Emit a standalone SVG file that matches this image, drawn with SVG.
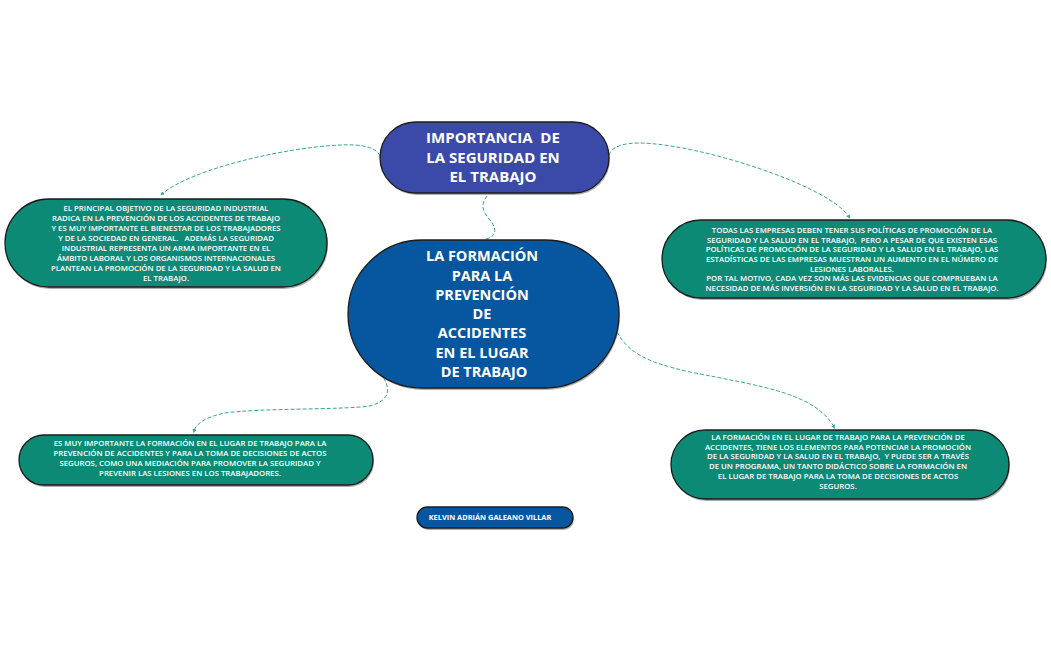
<svg xmlns="http://www.w3.org/2000/svg" width="1051" height="650" viewBox="0 0 1051 650">
<style>
.shadow{fill:#6b6b6b;opacity:0.55}
.box{stroke:#1c1c1c;stroke-width:1.3}
.teal{fill:#0d8a76}
.indigo{fill:#3b4aa8}
.blue{fill:#0657a0}
.small{font-family:"Open Sans","Liberation Sans",sans-serif;font-size:7.8px;font-weight:600;fill:#ffffff;text-anchor:middle}
.head{font-family:"Open Sans","Liberation Sans",sans-serif;font-weight:700;fill:#ffffff;text-anchor:middle}
.conn{fill:none;stroke:#3aa596;stroke-width:1;stroke-dasharray:4 2}
</style>
<defs>
<marker id="arr" viewBox="0 0 6 6" refX="3" refY="3" markerWidth="4" markerHeight="4" orient="auto-start-reverse">
<path d="M0,0 L6,3 L0,6 z" fill="#3aa596"/>
</marker>
</defs>
<rect width="1051" height="650" fill="#ffffff"/>

<g id="connectors">
<path class="conn" d="M380,156 C376,147 362,144 340,145 C280,148 190,170 162,194" marker-end="url(#arr)"/>
<path class="conn" d="M609,155 C612,146 624,143 640,143 C700,144 830,186 849,217" marker-end="url(#arr)"/>
<path class="conn" d="M487,196 C480,205 483,212 490,220 C498,230 496,238 484,239"/>
<path class="conn" d="M380,373 C390,385 393,400 370,406 C340,410 260,408 225,413 C205,417 196,424 194,431" marker-end="url(#arr)"/>
<path class="conn" d="M617,332 C628,352 645,362 690,372 C760,386 815,393 834,427" marker-end="url(#arr)"/>
</g>

<g id="node-top">
<rect class="shadow" x="381" y="124" width="229" height="71" rx="35.5"/>
<rect class="box indigo" x="380" y="122" width="229" height="71" rx="35.5"/>
<text class="head" font-size="15" xml:space="preserve"><tspan x="493" y="143">IMPORTANCIA  DE</tspan><tspan x="493" y="163">LA SEGURIDAD EN</tspan><tspan x="493" y="182">EL TRABAJO</tspan></text>
</g>

<g id="node-center">
<rect class="shadow" x="349" y="242" width="271" height="148" rx="74"/>
<rect class="box blue" x="348" y="240" width="271" height="148" rx="74"/>
<text class="head" font-size="14.5"><tspan x="482" y="261">LA FORMACIÓN</tspan><tspan x="482" y="281">PARA LA</tspan><tspan x="482" y="300">PREVENCIÓN</tspan><tspan x="482" y="319">DE</tspan><tspan x="482" y="338">ACCIDENTES</tspan><tspan x="482" y="358">EN EL LUGAR</tspan><tspan x="484" y="377">DE TRABAJO</tspan></text>
</g>

<g id="node-left">
<rect class="shadow" x="6" y="201" width="322" height="88" rx="44"/>
<rect class="box teal" x="5" y="199" width="322" height="88" rx="44"/>
<text class="small" xml:space="preserve"><tspan x="166" y="210.8">EL PRINCIPAL OBJETIVO DE LA SEGURIDAD INDUSTRIAL</tspan><tspan x="166" y="220.8">RADICA EN LA PREVENCIÓN DE LOS ACCIDENTES DE TRABAJO</tspan><tspan x="166" y="230.8">Y ES MUY IMPORTANTE EL BIENESTAR DE LOS TRABAJADORES</tspan><tspan x="166" y="240.8">Y DE LA SOCIEDAD EN GENERAL.   ADEMÁS LA SEGURIDAD</tspan><tspan x="166" y="250.8">INDUSTRIAL REPRESENTA UN ARMA IMPORTANTE EN EL</tspan><tspan x="166" y="260.8">ÁMBITO LABORAL Y LOS ORGANISMOS INTERNACIONALES</tspan><tspan x="166" y="270.8">PLANTEAN LA PROMOCIÓN DE LA SEGURIDAD Y LA SALUD EN</tspan><tspan x="166" y="280.8">EL TRABAJO.</tspan></text>
</g>

<g id="node-right">
<rect class="shadow" x="663" y="222" width="384" height="78" rx="39"/>
<rect class="box teal" x="662" y="220" width="384" height="78" rx="39"/>
<text class="small" xml:space="preserve"><tspan x="852" y="232.8">TODAS LAS EMPRESAS DEBEN TENER SUS POLÍTICAS DE PROMOCIÓN DE LA</tspan><tspan x="852" y="242.5">SEGURIDAD Y LA SALUD EN EL TRABAJO,  PERO A PESAR DE QUE EXISTEN ESAS</tspan><tspan x="852" y="252.2">POLÍTICAS DE PROMOCIÓN DE LA SEGURIDAD Y LA SALUD EN EL TRABAJO, LAS</tspan><tspan x="852" y="261.9">ESTADÍSTICAS DE LAS EMPRESAS MUESTRAN UN AUMENTO EN EL NÚMERO DE</tspan><tspan x="852" y="271.6">LESIONES LABORALES.</tspan><tspan x="852" y="281.3">POR TAL MOTIVO, CADA VEZ SON MÁS LAS EVIDENCIAS QUE COMPRUEBAN LA</tspan><tspan x="852" y="291">NECESIDAD DE MÁS INVERSIÓN EN LA SEGURIDAD Y LA SALUD EN EL TRABAJO.</tspan></text>
</g>

<g id="node-bottom-left">
<rect class="shadow" x="20" y="437" width="354" height="50" rx="25"/>
<rect class="box teal" x="19" y="435" width="354" height="50" rx="25"/>
<text class="small"><tspan x="190" y="445.8">ES MUY IMPORTANTE LA FORMACIÓN EN EL LUGAR DE TRABAJO PARA LA</tspan><tspan x="190" y="455.8">PREVENCIÓN DE ACCIDENTES Y PARA LA TOMA DE DECISIONES DE ACTOS</tspan><tspan x="190" y="465.8">SEGUROS, COMO UNA MEDIACIÓN PARA PROMOVER LA SEGURIDAD Y</tspan><tspan x="190" y="475.8">PREVENIR LAS LESIONES EN LOS TRABAJADORES.</tspan></text>
</g>

<g id="node-bottom-right">
<rect class="shadow" x="672" y="432" width="338" height="69" rx="34.5"/>
<rect class="box teal" x="671" y="430" width="338" height="69" rx="34.5"/>
<text class="small" xml:space="preserve"><tspan x="838" y="439.8">LA FORMACIÓN EN EL LUGAR DE TRABAJO PARA LA PREVENCIÓN DE</tspan><tspan x="838" y="449.6">ACCIDENTES, TIENE LOS ELEMENTOS PARA POTENCIAR LA PROMOCIÓN</tspan><tspan x="838" y="459.4">DE LA SEGURIDAD Y LA SALUD EN EL TRABAJO,  Y PUEDE SER A TRAVÉS</tspan><tspan x="838" y="469.2">DE UN PROGRAMA, UN TANTO DIDÁCTICO SOBRE LA FORMACIÓN EN</tspan><tspan x="838" y="479">EL LUGAR DE TRABAJO PARA LA TOMA DE DECISIONES DE ACTOS</tspan><tspan x="838" y="488.8">SEGUROS.</tspan></text>
</g>

<g id="node-author">
<rect class="shadow" x="418" y="509" width="156" height="21" rx="10.5"/>
<rect class="box blue" x="417" y="507" width="156" height="21" rx="10.5"/>
<text class="head" font-size="7.4" x="490" y="520.2">KELVIN ADRIÁN GALEANO VILLAR</text>
</g>
</svg>
